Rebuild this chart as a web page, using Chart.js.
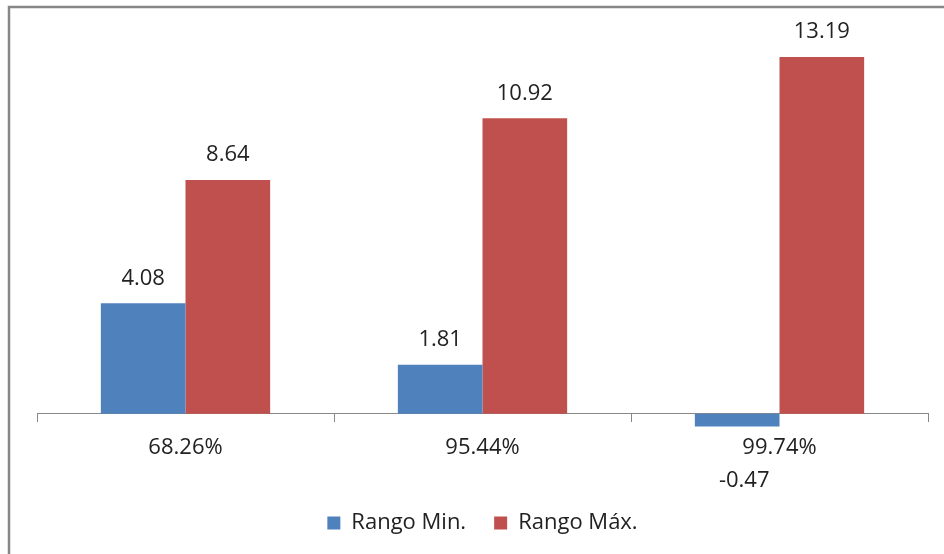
<!DOCTYPE html>
<html>
<head>
<meta charset="utf-8">
<script src="https://cdn.jsdelivr.net/npm/chart.js@4/dist/chart.umd.min.js"></script>
<style>
  html, body { margin: 0; padding: 0; background: #fff; }
  #wrap { width: 944px; height: 554px; position: relative; }
</style>
</head>
<body>
<div id="wrap"><canvas id="c" width="944" height="554"></canvas></div>
<script>
const categories = ['68.26%', '95.44%', '99.74%'];
const rangoMin = [4.08, 1.81, -0.47];
const rangoMax = [8.64, 10.92, 13.19];
const seriesNames = ['Rango Min.', 'Rango Máx.'];

const FONT = "'Open Sans', sans-serif";

const frame = {
  id: 'frame',
  beforeDraw(chart) {
    const ctx = chart.ctx;
    ctx.save();
    ctx.fillStyle = '#ffffff';
    ctx.fillRect(0, 0, chart.width, chart.height);
    ctx.strokeStyle = '#878787';
    ctx.lineWidth = 2.5;
    ctx.beginPath();
    ctx.moveTo(9, chart.height + 5);
    ctx.lineTo(9, 7);
    ctx.lineTo(chart.width + 5, 7);
    ctx.stroke();
    ctx.restore();
  }
};

const valueLabels = {
  id: 'valueLabels',
  afterDatasetsDraw(chart) {
    const ctx = chart.ctx;
    ctx.save();
    ctx.font = '22px ' + FONT;
    ctx.fillStyle = '#222';
    ctx.textAlign = 'center';
    ctx.textBaseline = 'middle';
    chart.data.datasets.forEach((ds, i) => {
      const meta = chart.getDatasetMeta(i);
      meta.data.forEach((bar, j) => {
        const v = ds.data[j];
        const y = v >= 0 ? bar.y - 25 : bar.y + 54;
        const x = v >= 0 ? bar.x : bar.x + 7;
        ctx.fillText(v.toFixed(2), x, y);
      });
    });
    ctx.restore();
  }
};

new Chart(document.getElementById('c'), {
  type: 'bar',
  data: {
    labels: categories,
    datasets: [
      { label: seriesNames[0], data: rangoMin, backgroundColor: '#4F81BD', borderWidth: 0 },
      { label: seriesNames[1], data: rangoMax, backgroundColor: '#C0504D', borderWidth: 0 }
    ]
  },
  options: {
    responsive: false,
    animation: false,
    layout: { padding: { left: 37, right: 16, top: 35, bottom: 10 } },
    datasets: { bar: { categoryPercentage: 0.57, barPercentage: 1.0 } },
    scales: {
      y: {
        display: false,
        min: -2.6,
        max: 14
      },
      x: {
        position: { y: 0 },
        grid: { display: true, drawOnChartArea: false, drawTicks: true, tickLength: 8, color: '#888', offset: true },
        border: { display: true, color: '#888', width: 1 },
        ticks: { color: '#222', font: { family: FONT, size: 22 }, padding: 13 }
      }
    },
    plugins: {
      legend: {
        position: 'bottom',
        labels: {
          boxWidth: 13,
          boxHeight: 13,
          padding: 28,
          color: '#222',
          font: { family: FONT, size: 22 }
        }
      },
      tooltip: { enabled: false }
    }
  },
  plugins: [frame, valueLabels]
});
</script>
</body>
</html>
